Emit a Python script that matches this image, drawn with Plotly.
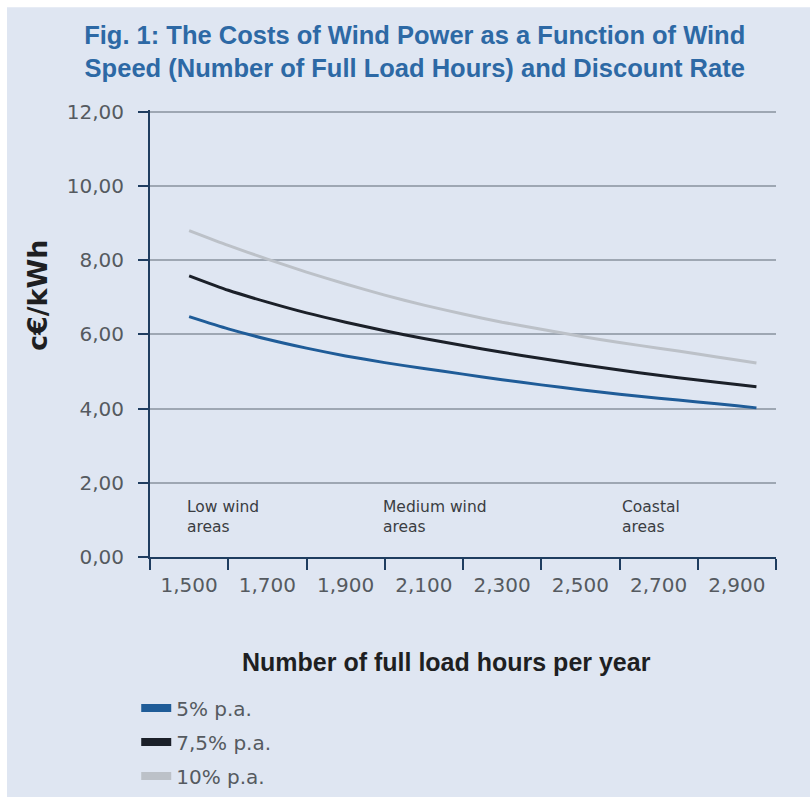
import plotly.graph_objects as go

# Full load hours per year (x) and electricity cost in c€/kWh (y)
hours = [1500, 1600, 1700, 1800, 1900, 2000, 2100, 2200, 2300, 2400,
         2500, 2600, 2700, 2800, 2900, 2950]
cost_5 = [6.48, 6.15, 5.87, 5.63, 5.42, 5.24, 5.08, 4.93, 4.78, 4.64,
          4.51, 4.39, 4.28, 4.18, 4.08, 4.02]
cost_75 = [7.58, 7.19, 6.87, 6.58, 6.33, 6.10, 5.89, 5.70, 5.52, 5.35,
           5.19, 5.04, 4.90, 4.77, 4.65, 4.59]
cost_10 = [8.80, 8.40, 8.03, 7.68, 7.36, 7.06, 6.79, 6.55, 6.33, 6.14,
           5.95, 5.78, 5.63, 5.47, 5.31, 5.23]

series_names = ["5% p.a.", "7,5% p.a.", "10% p.a."]
series_colors = ["#1f5c98", "#1b2029", "#bcc1c8"]

x_tick_values = [1500, 1700, 1900, 2100, 2300, 2500, 2700, 2900]
x_tick_labels = ["1,500", "1,700", "1,900", "2,100", "2,300", "2,500", "2,700", "2,900"]
x_boundaries = [1400, 1600, 1800, 2000, 2200, 2400, 2600, 2800, 3000]

y_tick_values = [0, 2, 4, 6, 8, 10, 12]
y_tick_labels = ["0,00", "2,00", "4,00", "6,00", "8,00", "10,00", "12,00"]

region_labels = ["Low wind<br>areas", "Medium wind<br>areas", "Coastal<br>areas"]
region_x = [1490, 1990, 2600]

BG = "#dfe6f2"
AXIS = "#1f3d60"
GRID = "#9ea7b3"
TICKTXT = "#555a60"
DARK = "#1e1f22"

fig = go.Figure()

for name, ys, col in zip(series_names, [cost_5, cost_75, cost_10], series_colors):
    fig.add_trace(go.Scatter(
        x=hours, y=ys, mode="lines", name=name,
        line=dict(color=col, width=3, shape="spline", smoothing=0.6),
        showlegend=False, hoverinfo="x+y+name",
    ))

# thicker swatches for the legend
for i, (name, col) in enumerate(zip(series_names, series_colors)):
    fig.add_trace(go.Scatter(
        x=[None], y=[None], mode="lines", name=name,
        line=dict(color=col, width=8),
        legendgroup=f"g{i}", showlegend=True,
    ))

for xv, txt in zip(region_x, region_labels):
    fig.add_annotation(x=xv, y=1.09, xref="x", yref="y", text=txt,
                       showarrow=False, xanchor="left", yanchor="middle", align="left",
                       font=dict(family="DejaVu Sans", size=15.5, color="#3a3d42"))

# axis titles
fig.add_annotation(x=-0.1805, y=0.586, xref="paper", yref="paper", text="c€/kWh",
                   textangle=-90, showarrow=False, xanchor="center", yanchor="middle",
                   font=dict(family="DejaVu Sans", size=27, color=DARK, weight="bold"))
fig.add_annotation(x=0.473, y=-0.235, xref="paper", yref="paper",
                   text="Number of full load hours per year",
                   showarrow=False, xanchor="center", yanchor="middle",
                   font=dict(family="Liberation Sans", size=25, color=DARK, weight="bold"))

# page frame: thin white rim around the tinted panel
fig.add_shape(type="rect", xref="paper", yref="paper",
              x0=-0.2284, x1=1.06, y0=-0.56, y1=1.230,
              fillcolor=BG, line=dict(width=0), layer="below")

fig.update_layout(
    width=810, height=797,
    margin=dict(l=150, r=34, t=110, b=240, autoexpand=False),
    paper_bgcolor="white",
    plot_bgcolor="rgba(0,0,0,0)",
    title=dict(
        text="Fig. 1: The Costs of Wind Power as a Function of Wind<br>"
             "Speed (Number of Full Load Hours) and Discount Rate",
        x=0.512, xanchor="center", xref="container",
        y=0.945, yanchor="middle", yref="container",
        font=dict(family="Liberation Sans", size=25.5, color="#2d69a5", weight="bold"),
    ),
    xaxis=dict(
        range=[1400, 3000],
        tickmode="array", tickvals=x_tick_values, ticktext=x_tick_labels,
        ticks="", ticklabelstandoff=9,
        tickfont=dict(family="DejaVu Sans", size=20, color=TICKTXT),
        showgrid=False, zeroline=False,
        showline=True, linecolor=AXIS, linewidth=2,
        minor=dict(tickmode="array", tickvals=x_boundaries, ticks="outside",
                   ticklen=11, tickwidth=2, tickcolor=AXIS, showgrid=False),
        automargin=False, fixedrange=True,
    ),
    yaxis=dict(
        range=[0, 12.05],
        tickmode="array", tickvals=y_tick_values, ticktext=y_tick_labels,
        ticks="outside", ticklen=10, tickwidth=2, tickcolor=AXIS,
        ticklabelstandoff=10,
        tickfont=dict(family="DejaVu Sans", size=20, color=TICKTXT),
        showgrid=True, gridcolor=GRID, gridwidth=1.5,
        zeroline=False,
        showline=True, linecolor=AXIS, linewidth=2,
        automargin=False, fixedrange=True,
    ),
    legend=dict(
        x=-0.022, xanchor="left", xref="paper",
        y=-0.294, yanchor="top", yref="paper",
        bgcolor="rgba(0,0,0,0)", traceorder="grouped", tracegroupgap=5,
        font=dict(family="DejaVu Sans", size=20, color=TICKTXT),
    ),
    showlegend=True,
)

fig.write_html("out.html")
